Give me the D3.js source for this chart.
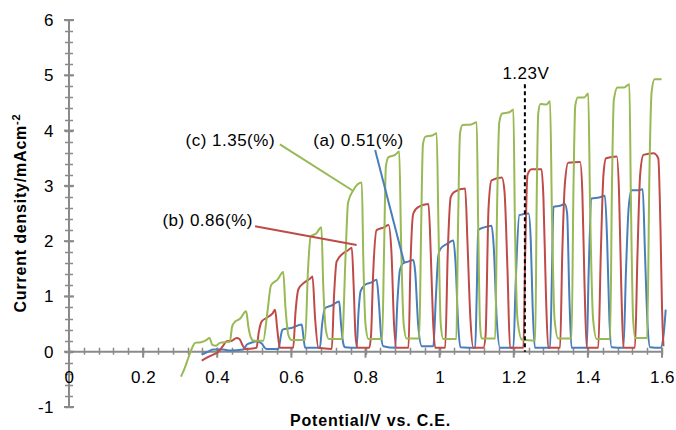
<!DOCTYPE html>
<html>
<head>
<meta charset="utf-8">
<script src="https://cdn.jsdelivr.net/npm/d3@7"></script>
<style>
  body { margin: 0; background: #fff; }
  text { font-family: "Liberation Sans", Arial, sans-serif; }
</style>
</head>
<body>
<script>
// chopped-light photocurrent, potential (V) vs current density (mA/cm2)
var seriesNames = ["(a) 0.51(%)", "(b) 0.86(%)", "(c) 1.35(%)"];

var seriesA = [
  [0.358,-0.05],[0.375,0.0],[0.389,0.04],[0.416,0.04],[0.434,0.02],[0.470,0.04],[0.480,0.13],[0.495,0.17],[0.506,0.19],[0.520,0.15],[0.527,0.08],[0.533,0.05],[0.565,0.05],
  [0.572,0.3],[0.576,0.40],[0.600,0.43],[0.628,0.49],[0.632,0.3],[0.637,0.07],[0.677,0.07],
  [0.683,0.5],[0.691,0.79],[0.710,0.84],[0.729,0.91],[0.734,0.5],[0.740,0.15],[0.745,0.08],[0.776,0.07],
  [0.781,0.7],[0.787,1.10],[0.799,1.21],[0.815,1.25],[0.830,1.30],[0.836,0.9],[0.842,0.3],[0.848,0.1],[0.880,0.07],
  [0.886,0.9],[0.893,1.48],[0.902,1.60],[0.915,1.63],[0.929,1.66],[0.934,1.45],[0.942,0.5],[0.952,0.1],[0.983,0.1],
  [0.990,1.0],[0.996,1.70],[1.001,1.85],[1.020,1.95],[1.037,2.01],[1.043,1.6],[1.050,0.5],[1.056,0.08],[1.096,0.07],
  [1.100,1.0],[1.104,2.20],[1.120,2.25],[1.140,2.28],[1.146,1.9],[1.154,0.6],[1.163,0.07],[1.199,0.07],
  [1.205,1.2],[1.215,2.47],[1.240,2.50],[1.246,2.0],[1.251,0.8],[1.257,0.07],[1.298,0.07],
  [1.303,1.4],[1.307,2.62],[1.325,2.64],[1.338,2.67],[1.344,2.5],[1.350,1.0],[1.356,0.07],[1.397,0.07],
  [1.402,1.4],[1.410,2.77],[1.430,2.79],[1.446,2.82],[1.452,2.0],[1.458,0.6],[1.464,0.08],[1.496,0.07],
  [1.503,1.5],[1.510,2.6],[1.518,2.92],[1.535,2.92],[1.548,2.94],[1.554,1.8],[1.561,0.5],[1.568,0.08],[1.596,0.07],[1.605,0.35],[1.610,0.76]
];

var seriesB = [
  [0.358,-0.16],[0.380,-0.08],[0.403,0.0],[0.415,0.1],[0.425,0.19],[0.440,0.2],[0.452,0.25],[0.460,0.23],[0.468,0.12],[0.475,0.05],[0.506,0.07],
  [0.512,0.35],[0.520,0.55],[0.535,0.62],[0.550,0.7],[0.556,0.76],[0.562,0.4],[0.569,0.07],[0.605,0.07],
  [0.611,0.7],[0.619,1.13],[0.635,1.25],[0.650,1.32],[0.657,1.36],[0.664,0.6],[0.673,0.07],[0.709,0.05],
  [0.715,1.0],[0.722,1.63],[0.740,1.78],[0.754,1.84],[0.763,1.88],[0.768,1.2],[0.773,0.3],[0.778,0.07],[0.810,0.07],
  [0.815,0.3],[0.820,1.3],[0.830,2.20],[0.850,2.25],[0.862,2.29],[0.870,1.8],[0.877,0.5],[0.884,0.07],[0.916,0.07],
  [0.921,1.5],[0.929,2.50],[0.943,2.62],[0.970,2.67],[0.976,1.8],[0.982,0.6],[0.988,0.07],[1.015,0.07],
  [1.022,1.8],[1.030,2.80],[1.040,2.89],[1.069,2.95],[1.075,2.0],[1.083,0.6],[1.091,0.07],[1.118,0.07],
  [1.124,0.3],[1.132,2.6],[1.140,3.10],[1.168,3.15],[1.175,2.9],[1.183,1.5],[1.190,0.07],[1.226,0.07],
  [1.231,1.8],[1.237,3.20],[1.248,3.30],[1.275,3.30],[1.280,2.8],[1.287,1.0],[1.293,0.07],[1.325,0.07],
  [1.331,1.8],[1.338,3.04],[1.347,3.42],[1.379,3.43],[1.385,2.9],[1.391,1.2],[1.397,0.07],[1.428,0.07],
  [1.435,1.8],[1.442,3.2],[1.449,3.50],[1.478,3.53],[1.484,2.9],[1.490,1.2],[1.496,0.07],[1.527,0.07],
  [1.534,1.8],[1.541,3.2],[1.550,3.56],[1.577,3.59],[1.590,3.50],[1.596,2.2],[1.600,0.8],[1.604,0.1]
];

var seriesC = [
  [0.302,-0.45],[0.312,-0.3],[0.322,-0.11],[0.333,0.08],[0.340,0.16],[0.356,0.17],[0.370,0.21],[0.379,0.25],[0.387,0.12],[0.397,0.11],[0.407,0.16],[0.434,0.18],
  [0.440,0.45],[0.445,0.52],[0.462,0.60],[0.478,0.73],[0.484,0.45],[0.490,0.27],[0.498,0.2],[0.524,0.2],
  [0.535,0.7],[0.545,1.20],[0.562,1.30],[0.578,1.44],[0.584,0.8],[0.592,0.3],[0.601,0.21],[0.637,0.21],
  [0.645,1.5],[0.652,2.08],[0.667,2.14],[0.681,2.25],[0.686,1.2],[0.693,0.4],[0.701,0.23],[0.737,0.23],
  [0.746,1.7],[0.753,2.7],[0.767,2.92],[0.790,3.06],[0.794,1.7],[0.800,0.5],[0.808,0.23],[0.845,0.23],
  [0.850,1.8],[0.855,3.35],[0.862,3.52],[0.880,3.56],[0.891,3.62],[0.896,2.0],[0.903,0.5],[0.911,0.24],[0.945,0.24],
  [0.950,2.2],[0.955,3.75],[0.962,3.89],[0.980,3.91],[0.992,3.95],[0.997,2.2],[1.003,0.5],[1.010,0.23],[1.045,0.23],
  [1.050,2.4],[1.055,3.95],[1.062,4.10],[1.085,4.11],[1.100,4.15],[1.104,2.3],[1.109,0.5],[1.113,0.24],[1.150,0.24],
  [1.155,2.6],[1.161,4.15],[1.169,4.31],[1.188,4.33],[1.199,4.38],[1.203,2.4],[1.210,0.6],[1.222,0.22],[1.258,0.2],
  [1.262,2.8],[1.266,4.3],[1.272,4.48],[1.288,4.47],[1.298,4.53],[1.303,2.5],[1.310,0.6],[1.320,0.24],[1.356,0.24],
  [1.361,2.9],[1.366,4.45],[1.373,4.60],[1.390,4.60],[1.401,4.67],[1.406,2.6],[1.414,0.6],[1.424,0.23],[1.460,0.23],
  [1.465,3.0],[1.470,4.55],[1.480,4.78],[1.498,4.78],[1.512,4.84],[1.516,2.8],[1.522,0.6],[1.528,0.25],[1.560,0.25],
  [1.566,3.2],[1.572,4.7],[1.580,4.93],[1.599,4.93]
];

var xTickValues = [0, 0.2, 0.4, 0.6, 0.8, 1, 1.2, 1.4, 1.6];
var xTickLabels = ["0", "0.2", "0.4", "0.6", "0.8", "1", "1.2", "1.4", "1.6"];
var yTickValues = [-1, 0, 1, 2, 3, 4, 5, 6];
var yTickLabels = ["-1", "0", "1", "2", "3", "4", "5", "6"];

// leader lines [from, to] for each series label, and the 1.23 V marker
var leaderA = [[0.826, 3.65], [0.904, 1.62]];
var leaderB = [[0.502, 2.27], [0.776, 1.93]];
var leaderC = [[0.569, 3.75], [0.764, 2.92]];
var markerV = 1.23, markerTop = 4.84;

var colors = ["#4a7ebb", "#be4b48", "#98b954"];

var margin = { top: 20, right: 14, bottom: 23, left: 69 },
  width = 676 - margin.left - margin.right,
  height = 430 - margin.top - margin.bottom;

var svg = d3
  .select("body")
  .append("svg")
  .attr("width", width + margin.left + margin.right)
  .attr("height", height + margin.top + margin.bottom)
  .append("g")
  .attr("transform", "translate(" + margin.left + "," + margin.top + ")");

var x = d3.scaleLinear().domain([0, 1.6]).range([0, width]);
var y = d3.scaleLinear().domain([-1, 6]).range([height, 0]);

var axisColor = "#8a8a8a";

// y axis line + ticks (ticks cross the axis)
svg.append("line")
  .attr("x1", 0).attr("x2", 0)
  .attr("y1", y(-1)).attr("y2", y(6))
  .attr("stroke", axisColor).attr("stroke-width", 2);

svg.selectAll(".yminor")
  .data(d3.range(-1, 6.001, 0.2))
  .enter().append("line")
  .attr("x1", -4).attr("x2", 4)
  .attr("y1", function (d) { return Math.round(y(d)) + 0.5; })
  .attr("y2", function (d) { return Math.round(y(d)) + 0.5; })
  .attr("stroke", axisColor).attr("stroke-width", 1.5);

svg.selectAll(".ymajor")
  .data(yTickValues)
  .enter().append("line")
  .attr("x1", -5).attr("x2", 5)
  .attr("y1", function (d) { return y(d); })
  .attr("y2", function (d) { return y(d); })
  .attr("stroke", axisColor).attr("stroke-width", 2);

svg.append("g")
  .call(d3.axisLeft(y).tickValues(yTickValues)
    .tickFormat(function (d, i) { return yTickLabels[i]; })
    .tickSize(0).tickPadding(15))
  .call(function (g) { g.select(".domain").remove(); })
  .selectAll("text")
  .style("font-size", "17px")
  .style("letter-spacing", "0.5px")
  .attr("fill", "#000");

// x axis at y = 0
var xg = svg.append("g").attr("transform", "translate(0," + y(0) + ")");

xg.append("line")
  .attr("x1", 0).attr("x2", x(1.6))
  .attr("stroke", axisColor).attr("stroke-width", 2);

xg.selectAll(".xminor")
  .data(d3.range(0, 1.6001, 0.04))
  .enter().append("line")
  .attr("x1", function (d) { return Math.round(x(d)) + 0.5; })
  .attr("x2", function (d) { return Math.round(x(d)) + 0.5; })
  .attr("y1", -4).attr("y2", 3)
  .attr("stroke", axisColor).attr("stroke-width", 1.5);

xg.selectAll(".xmajor")
  .data(xTickValues)
  .enter().append("line")
  .attr("x1", function (d) { return x(d); })
  .attr("x2", function (d) { return x(d); })
  .attr("y1", -4).attr("y2", 6)
  .attr("stroke", axisColor).attr("stroke-width", 2);

xg.append("g")
  .call(d3.axisBottom(x).tickValues(xTickValues)
    .tickFormat(function (d, i) { return xTickLabels[i]; })
    .tickSize(0).tickPadding(19))
  .call(function (g) { g.select(".domain").remove(); })
  .selectAll("text")
  .style("font-size", "17px")
  .style("letter-spacing", "0.5px")
  .attr("fill", "#000");

// series
var line = d3.line()
  .curve(d3.curveMonotoneX)
  .x(function (d) { return x(d[0]); })
  .y(function (d) { return y(d[1]); });

[seriesA, seriesB, seriesC].forEach(function (s, i) {
  svg.append("path")
    .datum(s)
    .attr("fill", "none")
    .attr("stroke", colors[i])
    .attr("stroke-width", 2)
    .attr("stroke-linejoin", "round")
    .attr("d", line);
});

// 1.23 V marker
svg.append("line")
  .attr("x1", x(markerV)).attr("x2", x(markerV))
  .attr("y1", y(markerTop)).attr("y2", y(0))
  .attr("stroke", "#000").attr("stroke-width", 2)
  .attr("stroke-dasharray", "4,3");

svg.append("text")
  .attr("x", x(markerV) + 1)
  .attr("y", y(markerTop) - 5)
  .attr("text-anchor", "middle")
  .style("font-size", "17px")
  .style("letter-spacing", "0.5px")
  .text("1.23V");

// series labels with leader lines
[leaderA, leaderB, leaderC].forEach(function (l, i) {
  svg.append("line")
    .attr("x1", x(l[0][0])).attr("y1", y(l[0][1]))
    .attr("x2", x(l[1][0])).attr("y2", y(l[1][1]))
    .attr("stroke", colors[i]).attr("stroke-width", 2);
});

var labelPos = [[0.659, 3.72, "start"], [0.252, 2.27, "start"], [0.556, 3.72, "end"]];
labelPos.forEach(function (p, i) {
  svg.append("text")
    .attr("x", x(p[0]))
    .attr("y", y(p[1]))
    .attr("text-anchor", p[2])
    .style("font-size", "17px")
    .style("letter-spacing", "0.5px")
    .text(seriesNames[i]);
});

// axis titles
svg.append("text")
  .attr("x", width / 2 + 5)
  .attr("y", height + margin.bottom - 4)
  .attr("text-anchor", "middle")
  .style("font-size", "16px")
  .style("font-weight", "bold")
  .style("letter-spacing", "0.8px")
  .text("Potential/V vs. C.E.");

var yt = svg.append("text")
  .attr("transform", "translate(" + (26 - margin.left) + "," + (213 - margin.top) + ") rotate(-90)")
  .attr("text-anchor", "middle")
  .style("font-size", "16px")
  .style("font-weight", "bold")
  .style("letter-spacing", "0.8px");
yt.append("tspan").text("Current density/mAcm");
yt.append("tspan").attr("dy", "-6").style("font-size", "11px").text("-2");
</script>
</body>
</html>
